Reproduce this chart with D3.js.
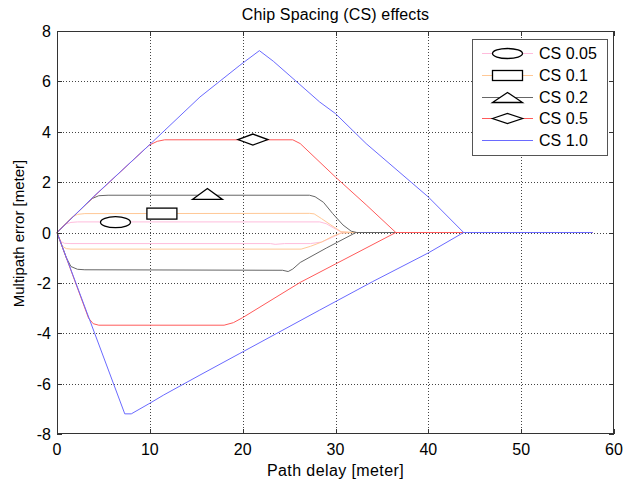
<!DOCTYPE html>
<html><head><meta charset="utf-8">
<script src="https://cdn.jsdelivr.net/npm/d3@7"></script>
<style>
html,body{margin:0;padding:0;background:#fff;}
svg text{font-family:Arial,"Liberation Sans",Helvetica,sans-serif;fill:#000;}
</style></head>
<body><svg id="c" width="624" height="479"></svg>
<script>
// ---- data ----
const seriesNames = ["CS 0.05","CS 0.1","CS 0.2","CS 0.5","CS 1.0"];
const seriesColors = ["#ffbcdc","#ffc896","#666666","#ff5a5a","#6a6aff"];
const markerTypes = ["ellipse","rect","triangle","diamond",null];
const markerX = [6.3, 11.3, 16.2, 21.1];
const markerY = [0.41, 0.75, 1.53, 3.69];
const xTicks = [0,10,20,30,40,50,60];
const yTicks = [-8,-6,-4,-2,0,2,4,6,8];

const cs005Upper = [[0,0],[0.6,0.22],[1.0,0.34],[1.5,0.4],[2.2,0.42],[28.3,0.42],[29,0.35],[29.8,0.18],[30.6,0.02],[31.5,0],[57.7,0]];
const cs005Lower = [[0,0],[0.4,-0.35],[0.8,-0.43],[1.5,-0.44],[23,-0.44],[23.5,-0.47],[24.5,-0.44],[27.3,-0.44],[28.5,-0.38],[29.5,-0.22],[30.6,-0.02],[31.5,0]];
const cs01Upper = [[0,0],[1,0.38],[1.6,0.6],[2.2,0.72],[3,0.75],[27.2,0.76],[27.7,0.74],[28.5,0.55],[29.5,0.3],[30.6,0.03],[32,0],[57.7,0]];
const cs01Lower = [[0,0],[0.6,-0.55],[1.0,-0.64],[1.5,-0.66],[26.3,-0.66],[27.3,-0.55],[28.5,-0.38],[29.7,-0.15],[30.6,-0.02],[32,0]];
const cs02Upper = [[0,0],[3.2,1.15],[3.8,1.35],[4.5,1.46],[5.5,1.48],[27.2,1.48],[27.8,1.42],[28.7,1.2],[29.7,0.75],[30.8,0.3],[31.7,0.05],[32.3,0],[57.7,0]];
const cs02Lower = [[0,0],[1.0,-1.0],[1.5,-1.35],[2.2,-1.46],[3,-1.48],[24.3,-1.5],[24.9,-1.55],[25.4,-1.45],[26.2,-1.19],[29,-0.62],[32.2,0]];
const cs05Upper = [[0,0],[3.9,1.4],[9.9,3.46],[10.8,3.62],[11.6,3.68],[25.4,3.68],[26.2,3.53],[30,2.2],[33.3,1.1],[36.5,0],[57.7,0]];
const cs05Lower = [[0,0],[3.4,-3.4],[3.9,-3.62],[4.5,-3.68],[18,-3.68],[19,-3.58],[20,-3.38],[26.2,-1.98],[30,-1.25],[36.5,0]];
const cs10Upper = [[0,0],[3.9,1.41],[9.9,3.46],[15.4,5.38],[19.7,6.64],[21.8,7.22],[23.3,6.8],[25,6.25],[28.3,5.18],[30,4.72],[33.3,3.53],[40,1.41],[43.8,0],[57.7,0]];
const cs10Lower = [[0,0],[7.3,-7.2],[8,-7.2],[9.9,-6.8],[11.5,-6.45],[15.4,-5.66],[19.7,-4.8],[28.3,-3.08],[34,-1.95],[40,-0.81],[43.8,0]];

const seriesData = [
  [cs005Upper, cs005Lower],
  [cs01Upper, cs01Lower],
  [cs02Upper, cs02Lower],
  [cs05Upper, cs05Lower],
  [cs10Upper, cs10Lower]
];

// ---- layout ----
const L = 57, R = 614, T = 31, B = 434;
const svg = d3.select("#c");
const x = d3.scaleLinear().domain([0,60]).range([L,R]);
const y = d3.scaleLinear().domain([-8,8]).range([B,T]);

svg.append("rect").attr("x",0).attr("y",0).attr("width",624).attr("height",479).attr("fill","#fff");

// grid
const grid = svg.append("g").attr("stroke","#444").attr("stroke-width",1).attr("stroke-dasharray","1,2");
xTicks.slice(1,-1).forEach(t=>{
  grid.append("line").attr("x1",Math.round(x(t))+0.5).attr("x2",Math.round(x(t))+0.5).attr("y1",T).attr("y2",B);
});
yTicks.slice(1,-1).forEach(t=>{
  grid.append("line").attr("y1",Math.round(y(t))+0.5).attr("y2",Math.round(y(t))+0.5).attr("x1",L).attr("x2",R);
});

// lines
const line = d3.line().x(d=>x(d[0])).y(d=>y(d[1]));
const lg = svg.append("g").attr("fill","none").attr("stroke-width",1);
seriesData.forEach((pair,i)=>{
  pair.forEach(arr=>{
    lg.append("path").attr("d",line(arr)).attr("stroke",seriesColors[i]);
  });
});

// marker shapes
function drawMarker(g, type, cx, cy, w, h){
  const s = {stroke:"#000","stroke-width":1.3,fill:"#fff"};
  let el;
  if(type==="ellipse"){
    el = g.append("ellipse").attr("cx",cx).attr("cy",cy).attr("rx",w/2).attr("ry",h/2);
  } else if(type==="rect"){
    el = g.append("rect").attr("x",cx-w/2).attr("y",cy-h/2).attr("width",w).attr("height",h);
  } else if(type==="triangle"){
    el = g.append("path").attr("d",`M${cx-w/2},${cy+h/2}L${cx},${cy-h/2}L${cx+w/2},${cy+h/2}Z`);
  } else if(type==="diamond"){
    el = g.append("path").attr("d",`M${cx-w/2},${cy}L${cx},${cy-h/2}L${cx+w/2},${cy}L${cx},${cy+h/2}Z`);
  }
  if(el) Object.entries(s).forEach(([k,v])=>el.attr(k,v));
}
const mg = svg.append("g");
markerX.forEach((mx,i)=>{
  drawMarker(mg, markerTypes[i], x(mx), y(markerY[i]), 30, 11);
});

// axes frame & ticks
const ax = svg.append("g").attr("stroke","#333").attr("stroke-width",1);
ax.append("rect").attr("x",L+0.5).attr("y",T+0.5).attr("width",R-L-1).attr("height",B-T-1).attr("fill","none");
xTicks.forEach(t=>{
  const px = Math.round(x(t))+0.5;
  ax.append("line").attr("x1",px).attr("x2",px).attr("y1",B).attr("y2",B-5);
  ax.append("line").attr("x1",px).attr("x2",px).attr("y1",T).attr("y2",T+5);
});
yTicks.forEach(t=>{
  const py = Math.round(y(t))+0.5;
  ax.append("line").attr("y1",py).attr("y2",py).attr("x1",L).attr("x2",L+5);
  ax.append("line").attr("y1",py).attr("y2",py).attr("x1",R).attr("x2",R-5);
});

// tick labels
svg.append("g").selectAll("text").data(xTicks).join("text")
  .attr("x",d=>x(d)).attr("y",455).attr("text-anchor","middle").attr("font-size",16).text(d=>d);
svg.append("g").selectAll("text").data(yTicks).join("text")
  .attr("x",51).attr("y",d=>y(d)+6).attr("text-anchor","end").attr("font-size",16).text(d=>d);

// titles
svg.append("text").attr("x",(L+R)/2).attr("y",19.5).attr("text-anchor","middle").attr("font-size",16).attr("letter-spacing",0.15).text("Chip Spacing (CS) effects");
svg.append("text").attr("x",(L+R)/2).attr("y",476).attr("text-anchor","middle").attr("font-size",16).attr("letter-spacing",0.4).text("Path delay [meter]");
svg.append("text").attr("transform",`translate(24,233.5) rotate(-90)`).attr("text-anchor","middle").attr("font-size",15).text("Multipath error [meter]");

// legend
const leg = svg.append("g");
leg.append("rect").attr("x",472.5).attr("y",39.5).attr("width",135).attr("height",116).attr("fill","#fff").attr("stroke","#555").attr("stroke-width",1);
const legY = [52.7,75,96.7,118.3,140];
seriesNames.forEach((nm,i)=>{
  const yy = legY[i];
  leg.append("line").attr("x1",482).attr("x2",533).attr("y1",Math.round(yy)+0.5).attr("y2",Math.round(yy)+0.5).attr("stroke",seriesColors[i]).attr("stroke-width",1);
  if(markerTypes[i]) drawMarker(leg, markerTypes[i], 507.5, Math.round(yy)+0.5, 30, 10);
  leg.append("text").attr("x",539).attr("y",yy+6).attr("font-size",16).text(nm);
});
</script></body></html>
